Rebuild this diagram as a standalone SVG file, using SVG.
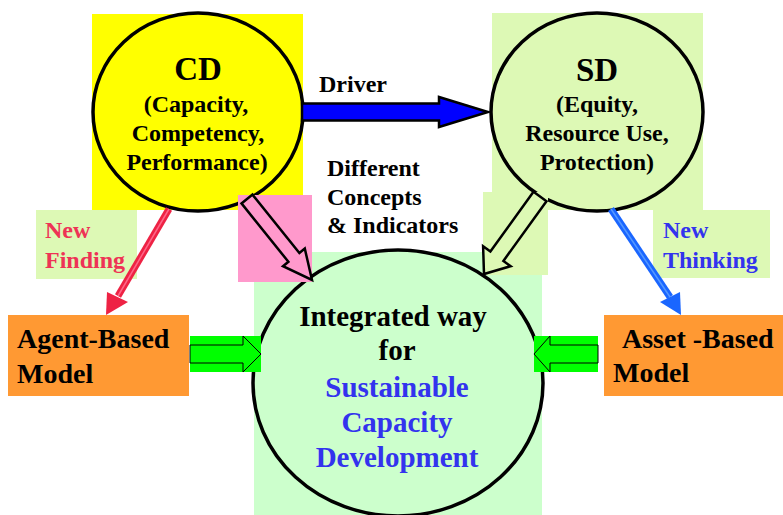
<svg xmlns="http://www.w3.org/2000/svg" width="783" height="515" viewBox="0 0 783 515">
<style>
text{font-family:"Liberation Serif","Times New Roman",serif;font-weight:bold;fill:#000}
.c{text-anchor:middle}
.big{font-size:33px}
.m{font-size:24px}
.l{font-size:29px}
.box{font-size:28px}
.red{fill:#ee3355}
.blu{fill:#3333ee}
.ring{stroke:#000;stroke-width:3.5}
</style>
<rect width="783" height="515" fill="#fff"/>
<g id="cd">
<rect x="92" y="14" width="211" height="196" fill="#ffff00"/>
<ellipse cx="198" cy="112" rx="105" ry="99" fill="#ffff00" class="ring"/>
<text class="c big" x="198" y="80">CD</text>
<text class="c m" x="196" y="112">(Capacity,</text>
<text class="c m" x="198" y="141">Competency,</text>
<text class="c m" x="197" y="170">Performance)</text>
</g>
<g id="sd">
<rect x="492" y="13" width="211" height="197" fill="#ddf9b5"/>
<ellipse cx="597" cy="112" rx="106" ry="99" fill="#ddf9b5" class="ring"/>
<text class="c big" x="597" y="81">SD</text>
<text class="c m" x="597" y="112">(Equity,</text>
<text class="c m" x="597" y="141">Resource Use,</text>
<text class="c m" x="597" y="170">Protection)</text>
</g>
<g id="integrated">
<rect x="254" y="252" width="288" height="263" fill="#ccffcc"/>
<ellipse cx="398" cy="383" rx="145" ry="133" fill="#ccffcc" class="ring"/>
<text class="c l" x="393" y="326">Integrated way</text>
<text class="c l" x="397" y="360">for</text>
<text class="c l blu" x="397" y="397">Sustainable</text>
<text class="c l blu" x="397" y="432">Capacity</text>
<text class="c l blu" x="397" y="467">Development</text>
</g>
<rect x="238" y="195" width="74" height="87" fill="#ff99cc"/>
<rect x="483" y="192" width="65" height="83" fill="#ddf9b5"/>
<g id="agent">
<rect x="8" y="315" width="181" height="81" fill="#ff9933"/>
<text class="box" x="17" y="348">Agent-Based</text>
<text class="box" x="17" y="383">Model</text>
</g>
<g id="asset">
<rect x="604" y="315" width="179" height="81" fill="#ff9933"/>
<text class="box" x="622" y="348">Asset -Based</text>
<text class="box" x="613" y="382">Model</text>
</g>
<g id="label-finding">
<rect x="36" y="210" width="101" height="69" fill="#ddf9b5"/>
<text class="m red" x="45" y="238">New</text>
<text class="m red" x="45" y="268">Finding</text>
</g>
<g id="label-thinking">
<rect x="653" y="210" width="117" height="68" fill="#ddf9b5"/>
<text class="m blu" x="663" y="238">New</text>
<text class="m blu" x="663" y="268">Thinking</text>
</g>
<g id="label-driver">
<text class="m" x="319" y="92">Driver</text>
</g>
<g id="label-concepts">
<text class="m" x="327" y="176">Different</text>
<text class="m" x="327" y="204.5">Concepts</text>
<text class="m" x="327" y="233">&amp; Indicators</text>
</g>
<g id="connectors">
<polygon points="302,103.5 439,103.5 439,97 488,112 439,127 439,120.5 302,120.5" fill="#0000ff" stroke="#000" stroke-width="2.5" stroke-linejoin="miter"/>
<polygon points="252.5,194.6 299.4,253 304.8,248.6 312,280 283,266.2 288.4,261.8 241.5,203.4" fill="#ff99cc" stroke="#000" stroke-width="2.5"/>
<polygon points="546.5,201.2 503.4,260.9 510.7,266.2 484,274 483.1,246.2 490.4,251.5 533.5,191.8" fill="#ddf9b5" stroke="#000" stroke-width="2.5"/>
<line x1="169" y1="209" x2="118" y2="296" stroke="#ee2244" stroke-width="7"/>
<line x1="169" y1="209" x2="118" y2="296" stroke="#ff6688" stroke-width="1.5"/>
<polygon points="107,292 128,302 106,315" fill="#ee2244"/>
<line x1="611" y1="209" x2="670" y2="297" stroke="#1a66ff" stroke-width="7"/>
<line x1="611" y1="209" x2="670" y2="297" stroke="#5599ff" stroke-width="1.5"/>
<polygon points="660,302 680,292 681,315" fill="#1a66ff"/>
<rect x="190" y="336" width="71" height="36" fill="#00ff00"/>
<polygon points="190,345 243,345 243,336 261,354 243,372 243,363 190,363" fill="#00ff00" stroke="#000" stroke-width="1"/>
<rect x="534" y="336" width="64" height="36" fill="#00ff00"/>
<polygon points="598,345 550,345 550,336 534,354 550,372 550,363 598,363" fill="#00ff00" stroke="#000" stroke-width="1"/>
</g>
</svg>
